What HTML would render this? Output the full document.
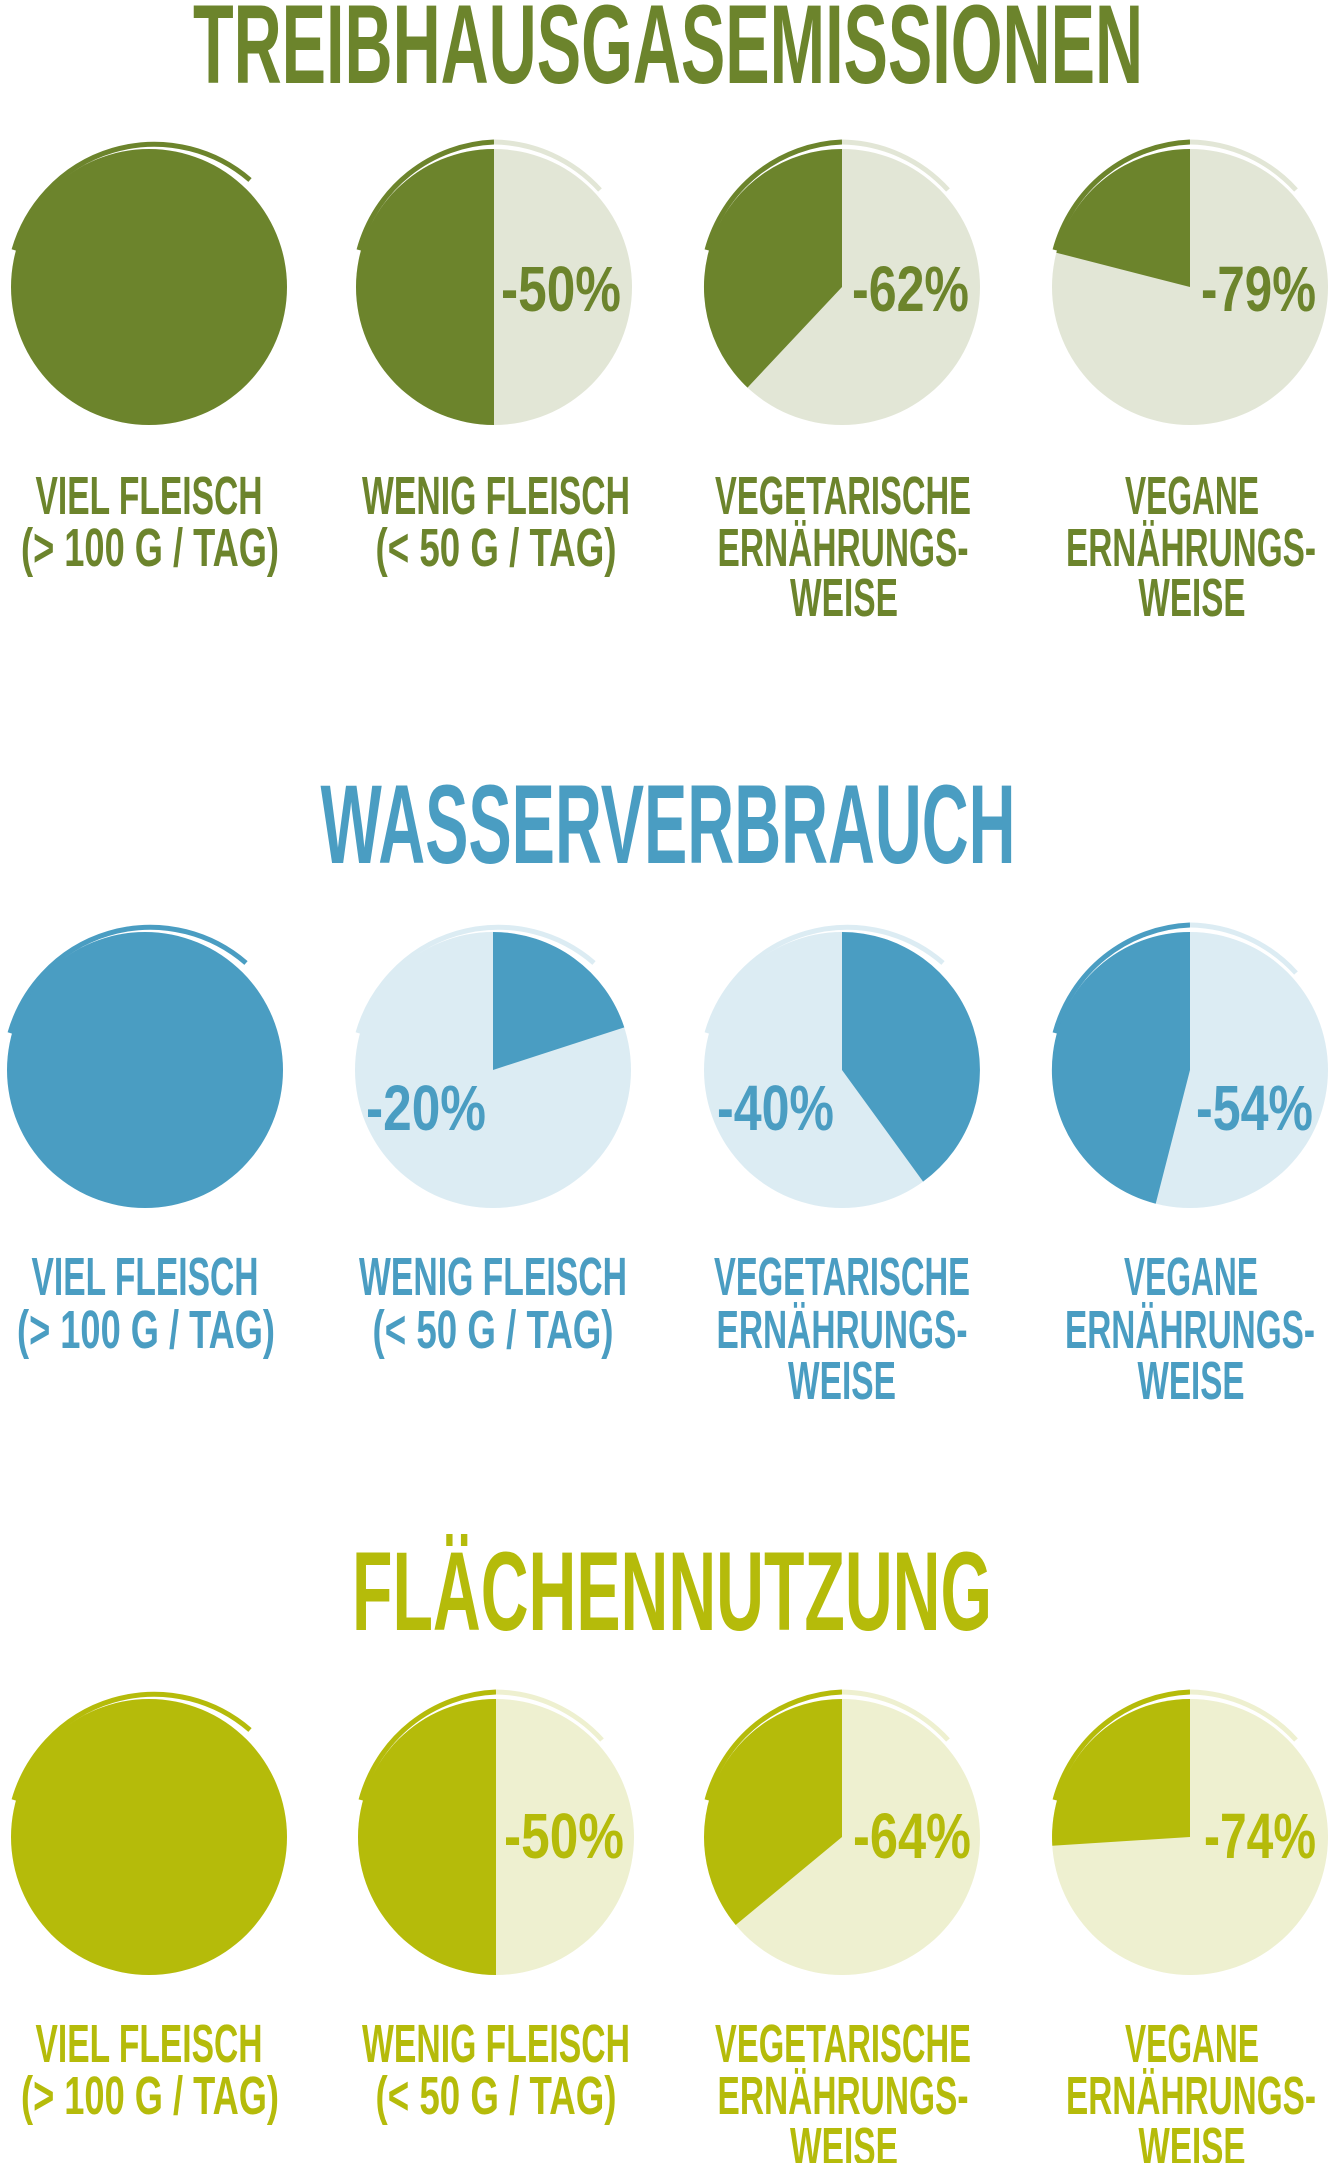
<!DOCTYPE html>
<html><head><meta charset="utf-8"><style>
html,body{margin:0;padding:0;background:#fff;}
svg{display:block;}
text{font-family:"Liberation Sans Narrow","Liberation Sans",sans-serif;font-weight:bold;}
</style></head><body>
<svg width="1334" height="2163" viewBox="0 0 1334 2163" xmlns="http://www.w3.org/2000/svg">
<!-- Row 1 -->
<g fill="#6c842c">
<text x="668" y="83" font-size="112" text-anchor="middle" textLength="950" lengthAdjust="spacingAndGlyphs">TREIBHAUSGASEMISSIONEN</text>
</g>
<g>
<circle cx="149" cy="287" r="138" fill="#6c842c"/>
<path d="M14 250 A146 146 0 0 1 250 180" fill="none" stroke="#6c842c" stroke-width="5"/>
<circle cx="494" cy="287" r="138" fill="#e2e6d6"/>
<path d="M494 287 L494 149 A138 138 0 0 0 494 425 Z" fill="#6c842c"/>
<path d="M359 250 A146 146 0 0 1 494 142" fill="none" stroke="#6c842c" stroke-width="5"/>
<path d="M494 142 A146 146 0 0 1 600 190" fill="none" stroke="#e2e6d6" stroke-width="5"/>
<circle cx="842" cy="287" r="138" fill="#e2e6d6"/>
<path d="M842 287 L842 149 A138 138 0 0 0 747.5 387.6 Z" fill="#6c842c"/>
<path d="M707 250 A146 146 0 0 1 842 142" fill="none" stroke="#6c842c" stroke-width="5"/>
<path d="M842 142 A146 146 0 0 1 948 190" fill="none" stroke="#e2e6d6" stroke-width="5"/>
<circle cx="1190" cy="287" r="138" fill="#e2e6d6"/>
<path d="M1190 287 L1190 149 A138 138 0 0 0 1056.3 252.7 Z" fill="#6c842c"/>
<path d="M1055 250 A146 146 0 0 1 1190 142" fill="none" stroke="#6c842c" stroke-width="5"/>
<path d="M1190 142 A146 146 0 0 1 1296 190" fill="none" stroke="#e2e6d6" stroke-width="5"/>
</g>
<g fill="#6c842c" font-size="64">
<text x="501" y="311" textLength="120" lengthAdjust="spacingAndGlyphs">-50%</text>
<text x="852" y="311" textLength="117" lengthAdjust="spacingAndGlyphs">-62%</text>
<text x="1201" y="311" textLength="115" lengthAdjust="spacingAndGlyphs">-79%</text>
</g>
<g fill="#6c842c" font-size="54" text-anchor="middle">
<text x="149" y="514" textLength="227" lengthAdjust="spacingAndGlyphs">VIEL FLEISCH</text>
<text x="150" y="566" textLength="258" lengthAdjust="spacingAndGlyphs">(&gt; 100 G / TAG)</text>
<text x="496" y="514" textLength="268" lengthAdjust="spacingAndGlyphs">WENIG FLEISCH</text>
<text x="496" y="566" textLength="241" lengthAdjust="spacingAndGlyphs">(&lt; 50 G / TAG)</text>
<text x="843" y="514" textLength="256" lengthAdjust="spacingAndGlyphs">VEGETARISCHE</text>
<text x="843" y="566" textLength="251" lengthAdjust="spacingAndGlyphs">ERNÄHRUNGS-</text>
<text x="844" y="616" textLength="108" lengthAdjust="spacingAndGlyphs">WEISE</text>
<text x="1192" y="514" textLength="134" lengthAdjust="spacingAndGlyphs">VEGANE</text>
<text x="1191" y="566" textLength="250" lengthAdjust="spacingAndGlyphs">ERNÄHRUNGS-</text>
<text x="1192" y="616" textLength="107" lengthAdjust="spacingAndGlyphs">WEISE</text>
</g>

<!-- Row 2 -->
<text x="668" y="863" font-size="112" fill="#4a9dc2" text-anchor="middle" textLength="695" lengthAdjust="spacingAndGlyphs">WASSERVERBRAUCH</text>
<g>
<circle cx="145" cy="1070" r="138" fill="#4a9dc2"/>
<path d="M10 1033 A146 146 0 0 1 246 963" fill="none" stroke="#4a9dc2" stroke-width="5"/>
<circle cx="493" cy="1070" r="138" fill="#dcecf3"/>
<path d="M493 1070 L493 932 A138 138 0 0 1 624.3 1027.4 Z" fill="#4a9dc2"/>
<path d="M358 1033 A146 146 0 0 1 594 963" fill="none" stroke="#dcecf3" stroke-width="5"/>
<circle cx="842" cy="1070" r="138" fill="#dcecf3"/>
<path d="M842 1070 L842 932 A138 138 0 0 1 923.1 1181.6 Z" fill="#4a9dc2"/>
<path d="M707 1033 A146 146 0 0 1 943 963" fill="none" stroke="#dcecf3" stroke-width="5"/>
<circle cx="1190" cy="1070" r="138" fill="#dcecf3"/>
<path d="M1190 1070 L1190 932 A138 138 0 0 0 1155.7 1203.7 Z" fill="#4a9dc2"/>
<path d="M1055 1033 A146 146 0 0 1 1190 925" fill="none" stroke="#4a9dc2" stroke-width="5"/>
<path d="M1190 925 A146 146 0 0 1 1296 973" fill="none" stroke="#dcecf3" stroke-width="5"/>
</g>
<g fill="#4a9dc2" font-size="64">
<text x="366" y="1130" textLength="120" lengthAdjust="spacingAndGlyphs">-20%</text>
<text x="717" y="1130" textLength="117" lengthAdjust="spacingAndGlyphs">-40%</text>
<text x="1196" y="1130" textLength="117" lengthAdjust="spacingAndGlyphs">-54%</text>
</g>
<g fill="#4a9dc2" font-size="54" text-anchor="middle">
<text x="145" y="1295" textLength="227" lengthAdjust="spacingAndGlyphs">VIEL FLEISCH</text>
<text x="146" y="1348" textLength="258" lengthAdjust="spacingAndGlyphs">(&gt; 100 G / TAG)</text>
<text x="493" y="1295" textLength="268" lengthAdjust="spacingAndGlyphs">WENIG FLEISCH</text>
<text x="493" y="1348" textLength="241" lengthAdjust="spacingAndGlyphs">(&lt; 50 G / TAG)</text>
<text x="842" y="1295" textLength="256" lengthAdjust="spacingAndGlyphs">VEGETARISCHE</text>
<text x="842" y="1348" textLength="251" lengthAdjust="spacingAndGlyphs">ERNÄHRUNGS-</text>
<text x="842" y="1399" textLength="108" lengthAdjust="spacingAndGlyphs">WEISE</text>
<text x="1191" y="1295" textLength="134" lengthAdjust="spacingAndGlyphs">VEGANE</text>
<text x="1190" y="1348" textLength="250" lengthAdjust="spacingAndGlyphs">ERNÄHRUNGS-</text>
<text x="1191" y="1399" textLength="107" lengthAdjust="spacingAndGlyphs">WEISE</text>
</g>

<!-- Row 3 -->
<text x="672" y="1630" font-size="112" fill="#b5bb0a" text-anchor="middle" textLength="640" lengthAdjust="spacingAndGlyphs">FLÄCHENNUTZUNG</text>
<g>
<circle cx="149" cy="1837" r="138" fill="#b5bb0a"/>
<path d="M14 1800 A146 146 0 0 1 250 1730" fill="none" stroke="#b5bb0a" stroke-width="5"/>
<circle cx="496" cy="1837" r="138" fill="#eef0d0"/>
<path d="M496 1837 L496 1699 A138 138 0 0 0 496 1975 Z" fill="#b5bb0a"/>
<path d="M361 1800 A146 146 0 0 1 496 1692" fill="none" stroke="#b5bb0a" stroke-width="5"/>
<path d="M496 1692 A146 146 0 0 1 602 1740" fill="none" stroke="#eef0d0" stroke-width="5"/>
<circle cx="842" cy="1837" r="138" fill="#eef0d0"/>
<path d="M842 1837 L842 1699 A138 138 0 0 0 735.7 1925 Z" fill="#b5bb0a"/>
<path d="M707 1800 A146 146 0 0 1 842 1692" fill="none" stroke="#b5bb0a" stroke-width="5"/>
<path d="M842 1692 A146 146 0 0 1 948 1740" fill="none" stroke="#eef0d0" stroke-width="5"/>
<circle cx="1190" cy="1837" r="138" fill="#eef0d0"/>
<path d="M1190 1837 L1190 1699 A138 138 0 0 0 1052.3 1845.7 Z" fill="#b5bb0a"/>
<path d="M1055 1800 A146 146 0 0 1 1190 1692" fill="none" stroke="#b5bb0a" stroke-width="5"/>
<path d="M1190 1692 A146 146 0 0 1 1296 1740" fill="none" stroke="#eef0d0" stroke-width="5"/>
</g>
<g fill="#b5bb0a" font-size="64">
<text x="504" y="1858" textLength="120" lengthAdjust="spacingAndGlyphs">-50%</text>
<text x="853" y="1858" textLength="118" lengthAdjust="spacingAndGlyphs">-64%</text>
<text x="1204" y="1858" textLength="112" lengthAdjust="spacingAndGlyphs">-74%</text>
</g>
<g fill="#b5bb0a" font-size="54" text-anchor="middle">
<text x="149" y="2062" textLength="227" lengthAdjust="spacingAndGlyphs">VIEL FLEISCH</text>
<text x="150" y="2114" textLength="258" lengthAdjust="spacingAndGlyphs">(&gt; 100 G / TAG)</text>
<text x="496" y="2062" textLength="268" lengthAdjust="spacingAndGlyphs">WENIG FLEISCH</text>
<text x="496" y="2114" textLength="241" lengthAdjust="spacingAndGlyphs">(&lt; 50 G / TAG)</text>
<text x="843" y="2062" textLength="256" lengthAdjust="spacingAndGlyphs">VEGETARISCHE</text>
<text x="843" y="2114" textLength="251" lengthAdjust="spacingAndGlyphs">ERNÄHRUNGS-</text>
<text x="844" y="2165" textLength="108" lengthAdjust="spacingAndGlyphs">WEISE</text>
<text x="1192" y="2062" textLength="134" lengthAdjust="spacingAndGlyphs">VEGANE</text>
<text x="1191" y="2114" textLength="250" lengthAdjust="spacingAndGlyphs">ERNÄHRUNGS-</text>
<text x="1192" y="2165" textLength="107" lengthAdjust="spacingAndGlyphs">WEISE</text>
</g>
</svg>
</body></html>
